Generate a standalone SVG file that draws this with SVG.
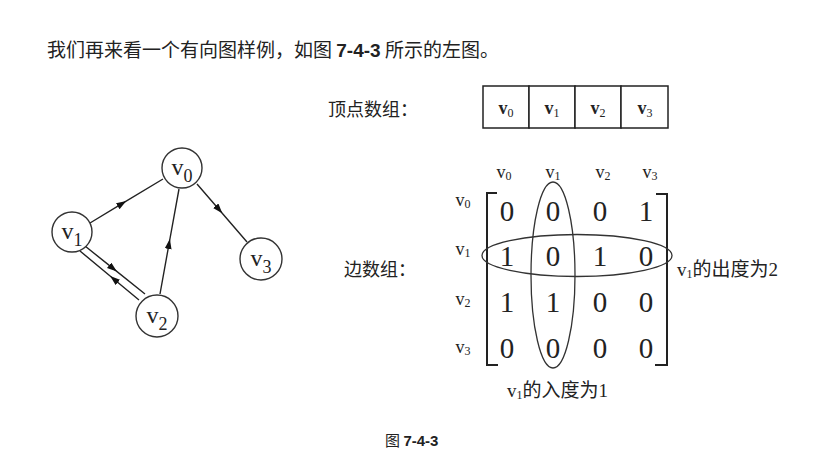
<svg xmlns="http://www.w3.org/2000/svg" width="837" height="456" viewBox="0 0 837 456">
<style>
.cjk{font-family:"Noto Sans CJK SC",sans-serif;fill:#222}
.ser{font-family:"Liberation Serif","Noto Sans CJK SC",serif;fill:#222}
.node circle{fill:#fff;stroke:#333;stroke-width:1.4}
.node text{font-family:"Liberation Serif",serif;font-size:24px;fill:#222;text-anchor:middle}
.edge{fill:none;stroke:#222;stroke-width:1.4;marker-mid:url(#arr)}
.cell{fill:#fff;stroke:#222;stroke-width:1.5}
.val{font-family:"Liberation Serif",serif;font-size:29px;fill:#222;text-anchor:middle}
.lbl{font-family:"Liberation Serif",serif;font-size:18px;fill:#222;text-anchor:middle}
.br{fill:none;stroke:#222;stroke-width:2}
.ell{fill:none;stroke:#333;stroke-width:1.3}
</style>
<defs>
<marker id="arr" markerUnits="userSpaceOnUse" markerWidth="10" markerHeight="8" refX="5" refY="3.5" orient="auto">
<path d="M0,0 L10,3.5 L0,7 z" fill="#111"/>
</marker>
</defs>
<rect width="837" height="456" fill="#fff"/>

<text class="cjk" x="47" y="57" font-size="19">我们再来看一个有向图样例，如图 <tspan font-family="Liberation Sans,sans-serif" font-weight="bold">7-4-3</tspan> 所示的左图。</text>

<g id="connectors">
<polyline class="edge" points="90,223 122,203.6 163,179"/>
<polyline class="edge" points="197,184 219,209.5 247,242"/>
<polyline class="edge" points="160,294 169,244 179,189"/>
<polyline class="edge" points="85,246 113,268.4 145,294"/>
<polyline class="edge" points="139,300 114,279.2 80,251"/>
</g>

<g id="v0" class="node"><circle cx="182" cy="168" r="20"/><text x="182" y="175">v<tspan font-size="18" dy="7">0</tspan></text></g>
<g id="v1" class="node"><circle cx="72" cy="232" r="20"/><text x="72" y="239">v<tspan font-size="18" dy="7">1</tspan></text></g>
<g id="v2" class="node"><circle cx="157" cy="316" r="21"/><text x="157" y="323">v<tspan font-size="18" dy="7">2</tspan></text></g>
<g id="v3" class="node"><circle cx="261" cy="259" r="21"/><text x="261" y="266">v<tspan font-size="18" dy="7">3</tspan></text></g>

<text class="cjk" x="328" y="116" font-size="18">顶点数组：</text>
<g id="vertex-array">
<rect class="cell" x="483" y="86" width="46" height="42"/>
<rect class="cell" x="529" y="86" width="46" height="42"/>
<rect class="cell" x="575" y="86" width="46" height="42"/>
<rect class="cell" x="621" y="86" width="47" height="42"/>
<text class="lbl" x="506" y="114" font-weight="bold">v<tspan font-size="12" font-weight="normal" dy="3">0</tspan></text>
<text class="lbl" x="552" y="114" font-weight="bold">v<tspan font-size="12" font-weight="normal" dy="3">1</tspan></text>
<text class="lbl" x="598" y="114" font-weight="bold">v<tspan font-size="12" font-weight="normal" dy="3">2</tspan></text>
<text class="lbl" x="645" y="114" font-weight="bold">v<tspan font-size="12" font-weight="normal" dy="3">3</tspan></text>
</g>

<text class="cjk" x="344" y="276" font-size="18">边数组：</text>
<g id="edge-matrix">
<text class="lbl" x="504" y="178">v<tspan font-size="12" dy="2">0</tspan></text>
<text class="lbl" x="553" y="178">v<tspan font-size="12" dy="2">1</tspan></text>
<text class="lbl" x="603" y="178">v<tspan font-size="12" dy="2">2</tspan></text>
<text class="lbl" x="650" y="178">v<tspan font-size="12" dy="2">3</tspan></text>
<text class="lbl" x="463" y="206">v<tspan font-size="12" dy="2">0</tspan></text>
<text class="lbl" x="463" y="255">v<tspan font-size="12" dy="2">1</tspan></text>
<text class="lbl" x="463" y="305">v<tspan font-size="12" dy="2">2</tspan></text>
<text class="lbl" x="463" y="353">v<tspan font-size="12" dy="2">3</tspan></text>
<path class="br" d="M497,193 H487 V365 H498"/>
<path class="br" d="M656,194 H667 V365 H655"/>
<text class="val" x="507" y="221">0</text><text class="val" x="553" y="221">0</text><text class="val" x="600" y="221">0</text><text class="val" x="646" y="221">1</text>
<text class="val" x="507" y="266">1</text><text class="val" x="553" y="266">0</text><text class="val" x="600" y="266">1</text><text class="val" x="646" y="266">0</text>
<text class="val" x="507" y="312">1</text><text class="val" x="553" y="312">1</text><text class="val" x="600" y="312">0</text><text class="val" x="646" y="312">0</text>
<text class="val" x="507" y="358">0</text><text class="val" x="553" y="358">0</text><text class="val" x="600" y="358">0</text><text class="val" x="646" y="358">0</text>
<ellipse class="ell" cx="553" cy="275" rx="22" ry="93"/>
<ellipse class="ell" cx="577" cy="255.5" rx="95" ry="21"/>
</g>

<text class="ser" x="677" y="276" font-size="19">v<tspan font-size="12" dy="2">1</tspan><tspan class="cjk" dy="-2" font-size="19">的出度为</tspan>2</text>
<text class="ser" x="507" y="397" font-size="19">v<tspan font-size="12" dy="2">1</tspan><tspan class="cjk" dy="-2" font-size="19">的入度为</tspan>1</text>

<text class="cjk" x="385" y="446" font-size="15">图 <tspan font-family="Liberation Sans,sans-serif" font-weight="bold">7-4-3</tspan></text>
</svg>
